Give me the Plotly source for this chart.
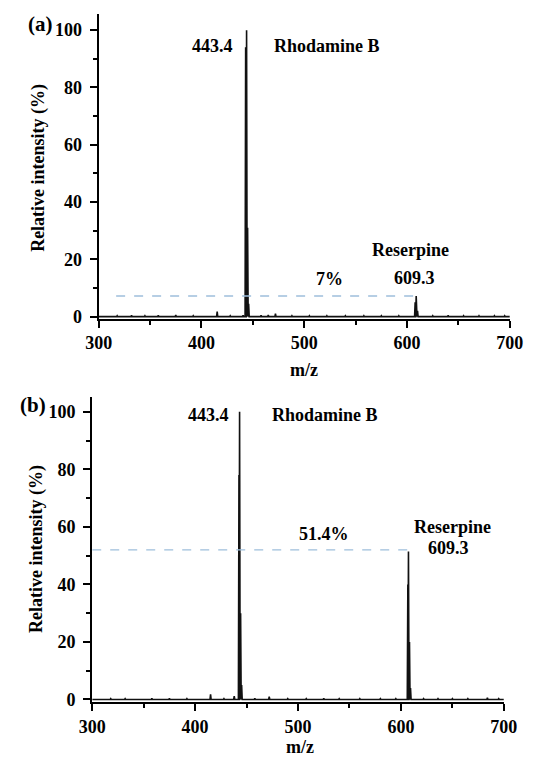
import plotly.graph_objects as go

# ---------------- data ----------------
# Panel (a): peak list (m/z, relative intensity %)
mz_a = [318, 332, 345, 358, 375, 392, 415.3, 428, 440.5, 443.0, 443.9, 444.9, 445.9,
        458, 465, 472, 488, 505, 522, 540, 558, 575, 592, 607.9, 608.9, 610.2,
        625, 640, 655, 670, 685, 695]
int_a = [0.3, 0.4, 0.3, 0.5, 0.6, 0.3, 1.8, 0.3, 0.5, 94.0, 100.0, 31.0, 4.5,
         0.5, 0.6, 1.0, 0.3, 0.3, 0.3, 0.3, 0.3, 0.3, 0.3, 5.0, 7.2, 2.0,
         0.3, 0.4, 0.3, 0.3, 0.3, 0.3]

# Panel (b)
mz_b = [318, 332, 358, 375, 392, 415.0, 428, 438.0, 442.6, 443.2, 444.2, 445.2,
        458, 472, 490, 508, 525, 540, 560, 580, 595, 606.7, 607.3, 608.3, 609.3,
        622, 636, 650, 665, 684, 695]
int_b = [0.3, 0.3, 0.4, 0.4, 0.3, 1.8, 0.3, 1.2, 78.0, 100.0, 30.0, 5.0,
         0.4, 1.0, 0.3, 0.3, 0.4, 0.3, 0.3, 0.3, 0.3, 40.0, 51.4, 20.0, 4.0,
         0.3, 0.3, 0.3, 0.3, 0.6, 0.3]

ratio_level_a = 7.2
ratio_level_b = 52.0
ratio_text_a = "7%"
ratio_text_b = "51.4%"
dash_start_a, dash_end_a = 317, 609
dash_start_b, dash_end_b = 300, 607

x_ticks = [300, 400, 500, 600, 700]
y_ticks = [0, 20, 40, 60, 80, 100]

FONT = "Liberation Serif, Times New Roman, serif"


def profile(mz, inten, lo=300, hi=700, hw=0.55):
    xs, ys = [lo], [0.0]
    for m, h in sorted(zip(mz, inten)):
        xs += [m - hw, m, m + hw]
        ys += [0.0, h, 0.0]
    xs.append(hi)
    ys.append(0.0)
    return xs, ys


xa, ya = profile(mz_a, int_a)
xb, yb = profile(mz_b, int_b)

fig = go.Figure()
fig.add_trace(go.Scatter(x=xa, y=ya, mode="lines", line=dict(color="#111111", width=1.6),
                         xaxis="x", yaxis="y", showlegend=False, hoverinfo="skip"))
fig.add_trace(go.Scatter(x=xb, y=yb, mode="lines", line=dict(color="#111111", width=1.6),
                         xaxis="x2", yaxis="y2", showlegend=False, hoverinfo="skip"))

W, H = 539, 763


def xd(l, r):
    return [l / W, r / W]


def yd(top, bottom):
    return [1 - bottom / H, 1 - top / H]


axis_common = dict(
    showline=True, linecolor="black", linewidth=2, mirror=False,
    ticks="outside", ticklen=7, tickwidth=1.5, tickcolor="black",
    showgrid=False, zeroline=False,
    tickfont=dict(family=FONT, size=18, color="black", weight="bold"),
)

fig.update_layout(
    width=W, height=H, margin=dict(l=0, r=0, t=0, b=0),
    paper_bgcolor="white", plot_bgcolor="white",
    xaxis=dict(domain=xd(89.3, 523), range=[300, 700], tickvals=x_ticks, anchor="y",
               minor=dict(dtick=50, ticks="outside", ticklen=4, tickwidth=1.5, tickcolor="black"),
               **axis_common),
    yaxis=dict(domain=yd(14, 322), range=[-0.7, 105.7], tickvals=y_ticks, anchor="x",
               minor=dict(dtick=10, ticks="outside", ticklen=4, tickwidth=1.5, tickcolor="black"),
               ticklabelstandoff=4, **axis_common),
    xaxis2=dict(domain=xd(82.5, 516.7), range=[300, 700], tickvals=x_ticks, anchor="y2",
                minor=dict(dtick=50, ticks="outside", ticklen=4, tickwidth=1.5, tickcolor="black"),
                **axis_common),
    yaxis2=dict(domain=yd(401, 709.5), range=[-0.9, 105.2], tickvals=y_ticks, anchor="x2",
                minor=dict(dtick=10, ticks="outside", ticklen=4, tickwidth=1.5, tickcolor="black"),
                ticklabelstandoff=4, **axis_common),
)

dash_color = "#9ebfdc"
fig.add_shape(type="line", xref="x", yref="y", x0=dash_start_a, x1=dash_end_a,
              y0=ratio_level_a, y1=ratio_level_a, line=dict(color=dash_color, width=1.4, dash="dash"))
fig.add_shape(type="line", xref="x2", yref="y2", x0=dash_start_b, x1=dash_end_b,
              y0=ratio_level_b, y1=ratio_level_b, line=dict(color=dash_color, width=1.4, dash="dash"))


def ann(text, x, y, xref, yref, size=18, angle=0):
    fig.add_annotation(text=text, x=x, y=y, xref=xref, yref=yref, showarrow=False,
                       textangle=angle, xanchor="center", yanchor="middle",
                       font=dict(family=FONT, size=size, color="black", weight="bold"))


# Panel (a) annotations
ann("443.4", 410.4, 94.5, "x", "y")
ann("Rhodamine B", 522, 94.5, "x", "y")
ann("Reserpine", 603, 23.4, "x", "y")
ann("609.3", 607, 13.6, "x", "y")
ann(ratio_text_a, 525, 13.2, "x", "y")
# Panel (b) annotations
ann("443.4", 412.9, 99.0, "x2", "y2")
ann("Rhodamine B", 526, 99.0, "x2", "y2")
ann("Reserpine", 650, 60.0, "x2", "y2")
ann("609.3", 646, 52.5, "x2", "y2")
ann(ratio_text_b, 525, 57.5, "x2", "y2")

# Panel letters, axis titles (paper coords)
ann("(a)", 28 / W, 1 - 24 / H, "paper", "paper", size=21)
ann("(b)", 20 / W, 1 - 409 / H, "paper", "paper", size=21)
ann("Relative intensity (%)", 26 / W, 1 - 170 / H, "paper", "paper", angle=-90)
ann("Relative intensity (%)", 23 / W, 1 - 555 / H, "paper", "paper", angle=-90)
ann("m/z", 306 / W, 1 - 374 / H, "paper", "paper")
ann("m/z", 302 / W, 1 - 755 / H, "paper", "paper")

fig.write_html("out.html")
